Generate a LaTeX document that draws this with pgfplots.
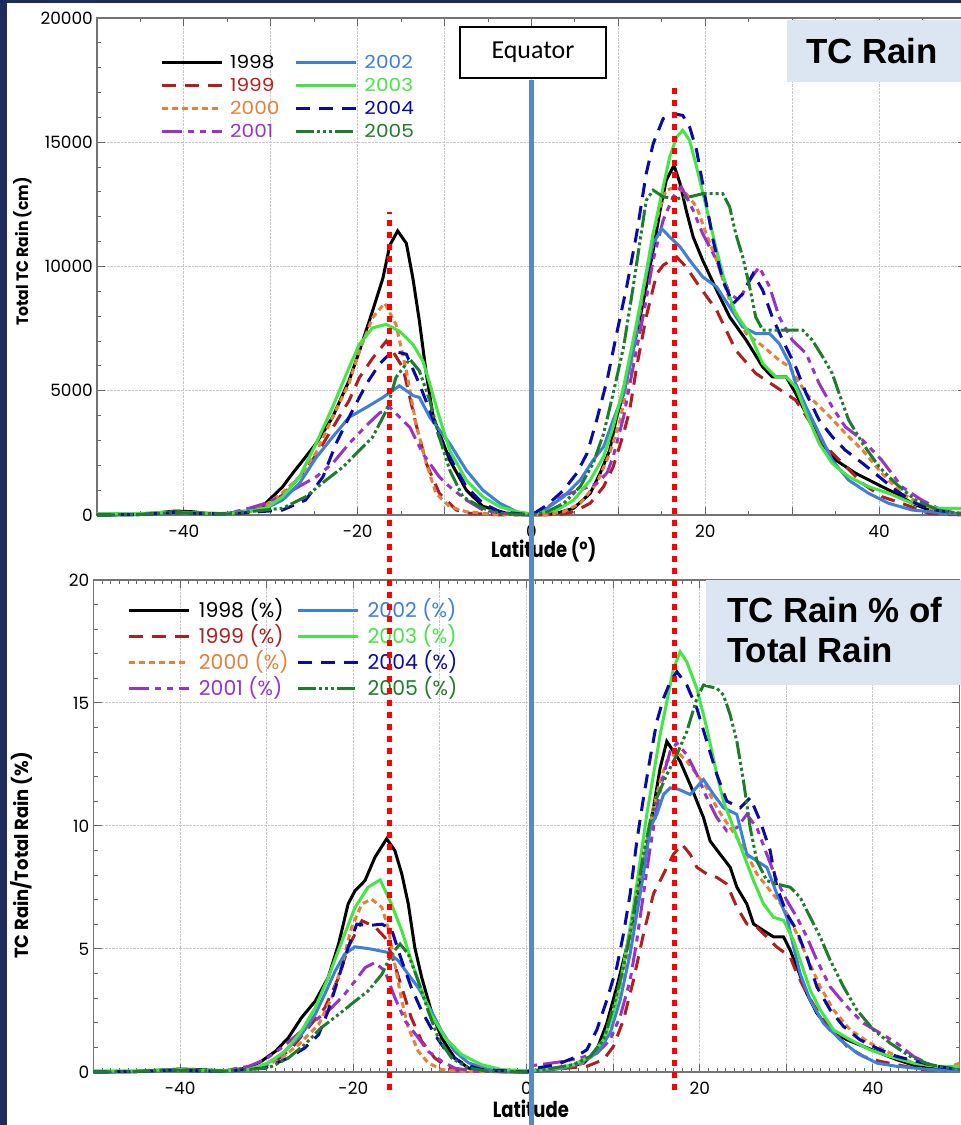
\documentclass[border=0pt]{standalone}
\usepackage{pgfplots}
\pgfplotsset{compat=1.18}
\usepackage{fontspec}
\setmainfont{Poppins}
\newfontfamily\lblfont[FakeStretch=0.82]{Poppins}
\newfontfamily\ylblfont[FakeStretch=0.95]{Poppins}
\newfontfamily\legfont[FakeStretch=1.12]{Poppins}
\newfontfamily\arialfont{Liberation Sans}
\newfontfamily\calfont{Carlito}

\definecolor{c98}{HTML}{000000}
\definecolor{c99}{HTML}{B01E1E}
\definecolor{c00}{HTML}{E5803C}
\definecolor{c01}{HTML}{9B32C8}
\definecolor{c02}{HTML}{3F7FDC}
\definecolor{c03}{HTML}{44E644}
\definecolor{c04}{HTML}{0A0AA5}
\definecolor{c05}{HTML}{1E7D2A}
\definecolor{navyframe}{HTML}{1F2B5B}
\definecolor{boxblue}{HTML}{DCE6F2}
\definecolor{eqblue}{HTML}{5A88C0}

\pgfplotsset{
  s98/.style={color=c98, line width=3bp},
  s99/.style={color=c99, line width=3bp, dash pattern=on 14bp off 9bp},
  s00/.style={color=c00, line width=3bp, dash pattern=on 6bp off 4bp},
  s01/.style={color=c01, line width=3bp, dash pattern=on 20bp off 6bp on 6bp off 6bp on 6bp off 6bp},
  s02/.style={color=c02, line width=3bp},
  s03/.style={color=c03, line width=3bp},
  s04/.style={color=c04, line width=3bp, dash pattern=on 14bp off 9bp},
  s05/.style={color=c05, line width=3bp, dash pattern=on 18bp off 3bp on 3bp off 3bp on 3bp off 3bp on 3bp off 3bp},
  tcaxis/.style={
    scale only axis, clip=false,
    scaled x ticks=false, scaled y ticks=false,
    xmin=-50, xmax=50,
    xtick={-50,-40,...,50},
    xticklabels={,-40,,-20,,0,,20,,40,},
    tick align=inside,
    major tick length=8bp, minor tick length=4bp,
    tick style={color=black!60, line width=1bp},
    axis line style={color=black!55, line width=1.2bp},
    grid=major,
    major grid style={densely dotted, color=black!22, line width=1bp},
    ticklabel style={font=\fontsize{17}{17}\selectfont, inner sep=4bp},
    xticklabel style={yshift=-6bp},
    legend cell align=left,
    legend image code/.code={\draw[##1] (0bp,0bp) -- (60bp,0bp);},
  },
}

\begin{document}
\begin{tikzpicture}[x=1bp,y=1bp]
\fill[navyframe] (0,0) rectangle (961,1125);
\fill[white] (7,0) rectangle (961,1122);

% ---------------- top panel: total TC rain ----------------
\begin{axis}[tcaxis,
  at={(97bp,610bp)}, anchor=south west,
  width=869bp, height=497bp,
  ymin=0, ymax=20000,
  ytick={0,5000,...,20000},
  yticklabels={0,5000,10000,15000,20000},
  minor x tick num=1, minor y tick num=4,
  xlabel={\lblfont\bfseries Latitude (°)},
  xlabel style={at={(axis description cs:0.514,0)}, anchor=center, yshift=-35bp, font=\fontsize{22}{22}\selectfont},
  ylabel={\ylblfont\bfseries Total TC Rain (cm)},
  ylabel style={at={(axis description cs:-0.086,0.53)}, anchor=center, font=\fontsize{16.5}{16.5}\selectfont},
  legend columns=4, transpose legend,
  legend style={at={(axis description cs:0.0726,0.923)}, anchor=north west,
    draw=none, fill=none, inner sep=0pt, outer sep=0pt,
    row sep=11bp, column sep=7bp,
    /tikz/every even column/.append style={column sep=15bp},
    nodes={inner sep=0pt, text height=12bp, text depth=0bp},
    font=\legfont\fontsize{18}{18}\selectfont},
]
\addplot[s98] coordinates {(-50,0)(-46,20)(-43,90)(-41,160)(-39,130)(-37,50)(-35,60)(-33.5,150)(-32.5,130)(-30.6,470)(-28.65,1130)(-27.5,1670)(-26.3,2200)(-24.8,2870)(-22.9,3930)(-21,5400)(-19.8,6600)(-18.3,8200)(-17.1,9530)(-16.3,10860)(-15.4,11430)(-14.4,10930)(-13.65,9530)(-12.9,7800)(-12.1,5670)(-11.3,3930)(-9.4,2200)(-7.5,1000)(-5.6,350)(-3,80)(0,0)(1.8,30)(2.9,70)(4.85,270)(6.75,870)(7.9,1680)(9.0,2610)(9.8,3950)(10.6,4890)(11.7,6630)(12.9,8640)(14.0,10650)(14.8,12260)(15.5,13470)(16.4,14070)(17.1,13330)(17.8,12260)(18.6,11190)(19.7,10250)(21.3,9050)(22.8,7970)(24.7,7040)(26.6,5960)(27.7,5560)(29.3,5560)(30.4,4890)(31.6,4090)(33.1,3015)(35.0,2210)(37.3,1680)(39.6,1270)(41.9,870)(43.8,470)(45.7,200)(48.7,70)(50,50)};
\addplot[s99] coordinates {(-50,0)(-45,20)(-41,100)(-38,60)(-35,40)(-32.5,100)(-30.6,350)(-28.65,800)(-26.7,1530)(-24.8,2400)(-22.9,3500)(-21,4600)(-19.8,5530)(-18.3,6300)(-16.7,7000)(-14.8,5930)(-13.3,3670)(-12.1,2070)(-10.6,870)(-8.65,200)(-7.1,70)(-4,10)(0,0)(2,10)(3.7,40)(4.85,130)(6.75,470)(8.3,1140)(9.4,1940)(10.6,3280)(11.3,4220)(12.1,5960)(13.2,7970)(14.4,9700)(15.15,10050)(16.7,10385)(17.8,9980)(19.35,9180)(21.3,8240)(23.5,6630)(25.8,5700)(28.1,5160)(30.4,4620)(31.9,3820)(33.5,2880)(35.8,2080)(38.1,1270)(40.3,740)(42.6,470)(45.7,70)(48,20)(50,0)};
\addplot[s00] coordinates {(-50,0)(-45,20)(-41,120)(-38,60)(-35,40)(-32.5,120)(-30.6,400)(-28.65,900)(-26.7,1530)(-24.8,2500)(-22.9,3930)(-21,5300)(-19.8,6600)(-18.3,7930)(-16.9,8530)(-15.6,7670)(-14.4,5800)(-13.3,3670)(-12.1,2070)(-11,870)(-9.4,330)(-7.5,130)(-4,20)(0,0)(2,20)(3.7,130)(5.6,470)(7.5,1270)(9.0,2480)(10.2,3820)(11.3,5700)(12.1,7300)(13.2,9720)(14.0,11320)(14.8,12400)(15.5,13070)(16.7,13200)(17.8,12930)(19.0,12400)(20.1,11320)(21.3,10250)(22.8,8640)(24.7,7300)(26.6,6800)(28.5,6230)(29.7,5960)(31.6,4890)(34.2,4000)(36.5,3150)(38.1,2610)(40.3,1680)(42.6,870)(45.7,270)(48,100)(50,30)};
\addplot[s01] coordinates {(-50,0)(-45,20)(-41,100)(-38,60)(-35,60)(-32.5,270)(-30.6,470)(-27.5,1000)(-24.8,1530)(-22.9,2070)(-21,2870)(-19,3600)(-17.5,4100)(-16.3,4330)(-14,3530)(-12.5,2470)(-10.6,1530)(-9.4,1130)(-7.5,600)(-5.6,200)(-3,50)(0,0)(1.8,300)(3.7,800)(5.6,1000)(7.5,1270)(8.7,1700)(9.4,2350)(10.6,3950)(11.7,5960)(12.9,8100)(14.0,10250)(15.15,11860)(16.3,12800)(17.25,13200)(18.6,12260)(19.7,11320)(21.3,10250)(22.8,8900)(23.9,8640)(25.1,9450)(26.2,9980)(27.4,9180)(28.5,7970)(30.0,7040)(31.6,6500)(33.1,5290)(34.6,4350)(36.1,3550)(38.1,3015)(40.3,2210)(42.6,1140)(44.9,600)(47.2,200)(49.1,70)(50,50)};
\addplot[s02] coordinates {(-50,0)(-45,20)(-41,100)(-38,60)(-35,40)(-33,150)(-30.6,270)(-28.65,600)(-26.7,1270)(-24.8,2300)(-22.9,3130)(-21,3930)(-19,4330)(-17.1,4730)(-15.2,5200)(-13.6,4800)(-12.9,4730)(-11.7,3930)(-9.4,2870)(-7.5,1800)(-5.6,1000)(-3.65,470)(-1.7,130)(0,0)(1.8,270)(3.7,740)(5.6,1400)(7.1,2210)(8.3,2750)(9.4,3820)(10.6,4890)(11.7,6630)(12.9,9180)(14.0,10920)(15.0,11520)(15.9,11190)(17.1,10790)(18.2,10250)(19.7,9580)(21.3,9180)(22.8,8370)(24.3,7570)(25.8,7300)(27.4,7300)(28.5,6900)(29.7,6100)(30.4,5290)(31.6,4350)(33.1,3280)(34.6,2210)(36.5,1400)(38.8,870)(41.1,470)(43.8,200)(47.6,70)(50,30)};
\addplot[s03] coordinates {(-50,50)(-45,60)(-41,120)(-38,80)(-35,60)(-32.5,150)(-30.6,270)(-28.65,730)(-26.7,1530)(-24.8,2870)(-22.9,4330)(-21,5930)(-19.8,6870)(-18.3,7530)(-16.7,7670)(-15.2,7400)(-13.65,6870)(-12.5,6200)(-11.7,5270)(-10.6,3930)(-9.4,2600)(-7.5,1400)(-5.6,730)(-3.65,330)(-1.7,130)(0,50)(2.9,200)(4.85,600)(6.75,1400)(8.3,2350)(9.4,3550)(10.6,5160)(11.7,7040)(12.9,9180)(14.0,11320)(15.15,13200)(15.9,14400)(16.7,15210)(17.4,15480)(18.2,15070)(19.0,14000)(20.1,12400)(21.3,10650)(22.4,9180)(23.5,8100)(25.1,7300)(26.6,6100)(28.1,5560)(29.3,5560)(30.4,5160)(31.6,4090)(33.1,2880)(34.6,2080)(36.5,1540)(38.8,1140)(41.1,870)(43.8,470)(46.8,270)(50,270)};
\addplot[s04] coordinates {(-50,0)(-45,20)(-41,100)(-38,60)(-35,40)(-32.5,100)(-28.65,200)(-26,600)(-24,1530)(-22.5,2870)(-21,3930)(-19,5270)(-17.5,6070)(-16,6600)(-14.4,6470)(-12.9,5270)(-11.7,4200)(-10.6,3130)(-9,2070)(-7.5,1130)(-5.6,470)(-3.65,130)(0,0)(1.8,400)(3.7,1000)(5.2,1680)(6.4,2480)(7.5,3820)(8.7,5430)(9.8,7300)(10.95,9180)(12.1,11320)(13.2,13740)(14.0,14940)(15.15,15950)(16.3,16150)(17.4,16080)(18.2,15610)(19.0,14670)(19.7,13330)(20.9,11050)(22.0,9450)(23.2,8500)(24.3,8900)(25.5,9710)(26.6,9050)(27.7,7970)(28.9,7040)(30.4,5960)(31.6,4890)(33.1,3820)(34.6,3150)(36.1,2610)(38.1,2080)(40.0,1540)(41.9,1000)(44.2,470)(46.5,200)(49.1,70)(50,50)};
\addplot[s05] coordinates {(-50,0)(-45,20)(-41,100)(-38,60)(-35,40)(-32,150)(-28.65,270)(-26,730)(-23.65,1400)(-21.7,1930)(-19.8,2600)(-18.3,3130)(-16.7,4200)(-15.6,5530)(-14,6270)(-12.9,5800)(-11.7,4600)(-10.6,3130)(-9.4,1800)(-7.9,730)(-5.6,270)(-3.65,70)(0,0)(1.8,130)(3.7,470)(5.6,1140)(7.1,2080)(8.3,3280)(9.4,4890)(10.6,6770)(11.7,9180)(12.5,11050)(13.2,12660)(14.0,13070)(15.15,12800)(16.7,12730)(18.2,12800)(19.7,12930)(22.0,12930)(22.8,12400)(23.5,11320)(24.3,10390)(25.1,9180)(25.8,7970)(26.6,7440)(28.1,7440)(29.7,7440)(31.2,7440)(32.3,7040)(33.5,6370)(34.6,5700)(35.4,4890)(36.5,3820)(38.1,2880)(40.0,1940)(41.9,1270)(44.2,600)(46.8,200)(49.1,70)(50,50)};
\legend{\textcolor{c98}{1998},\textcolor{c99}{1999},\textcolor{c00}{2000},\textcolor{c01}{2001},\textcolor{c02}{2002},\textcolor{c03}{2003},\textcolor{c04}{2004},\textcolor{c05}{2005}}
\end{axis}

% ---------------- bottom panel: TC rain as % of total ----------------
\begin{axis}[tcaxis,
  at={(93.5bp,53bp)}, anchor=south west,
  width=866bp, height=492bp,
  ymin=0, ymax=20,
  ytick={0,5,...,20},
  yticklabels={0,5,10,15,20},
  minor x tick num=9, minor y tick num=4,
  xlabel={\lblfont\bfseries Latitude},
  xlabel style={at={(axis description cs:0.505,0)}, anchor=center, yshift=-37bp, font=\fontsize{22}{22}\selectfont},
  ylabel={\ylblfont\bfseries TC Rain/Total Rain (\%)},
  ylabel style={at={(axis description cs:-0.083,0.44)}, anchor=center, font=\fontsize{19}{19}\selectfont},
  legend columns=4, transpose legend,
  legend style={at={(axis description cs:0.0398,0.953)}, anchor=north west,
    draw=none, fill=none, inner sep=0pt, outer sep=0pt,
    row sep=12bp, column sep=8bp,
    /tikz/every even column/.append style={column sep=8bp},
    nodes={inner sep=0pt, text height=14bp, text depth=0bp},
    font=\fontsize{20.5}{20.5}\selectfont},
]
\addplot[s98] coordinates {(-50,0)(-45,0.02)(-42,0.08)(-40,0.12)(-38,0.1)(-35,0.05)(-32.1,0.16)(-30.6,0.44)(-29,0.84)(-27.5,1.39)(-26,2.2)(-24.4,2.88)(-22.9,3.84)(-21.7,5.2)(-20.6,6.83)(-19.8,7.37)(-18.65,7.78)(-17.5,8.73)(-16.15,9.48)(-15.2,9.0)(-14.4,8.05)(-13.65,6.83)(-12.9,5.06)(-12.1,3.84)(-11,2.48)(-9.8,1.39)(-8.3,0.57)(-6.7,0.16)(-4.4,0.03)(0,0)(4.27,0.16)(6.58,0.36)(8.12,0.9)(9.27,1.98)(10.43,3.46)(11.58,5.08)(12.74,6.97)(13.89,9.12)(14.66,10.74)(15.43,12.36)(16.2,13.44)(16.97,13.03)(17.74,12.63)(18.9,11.68)(19.67,11.01)(20.44,10.34)(21.2,9.39)(22.36,8.85)(23.52,8.32)(24.29,7.51)(25.44,6.83)(26.21,6.02)(27.37,5.75)(28.53,5.49)(29.68,5.49)(30.45,4.95)(31.22,4.27)(32.37,3.19)(33.53,2.39)(35.07,1.71)(37.0,1.31)(38.92,1.04)(40.85,0.77)(42.77,0.5)(45.08,0.23)(48.55,0.1)(50,0.1)};
\addplot[s99] coordinates {(-50,0)(-45,0.02)(-41,0.08)(-38,0.05)(-35,0.03)(-31,0.16)(-29,0.44)(-27.1,0.98)(-25.2,1.8)(-23.3,2.6)(-21.7,3.84)(-20.6,5.06)(-19,6.15)(-17.5,5.9)(-16.35,5.47)(-15.6,4.79)(-14.4,3.43)(-13.3,2.2)(-12.1,1.25)(-10.6,0.57)(-9,0.16)(-7.1,0.03)(0,0)(6.96,0.23)(8.89,0.5)(10.04,1.04)(11.2,2.12)(12.35,3.73)(13.51,5.62)(14.66,7.24)(15.82,8.05)(16.97,8.85)(17.94,9.26)(18.9,8.85)(19.67,8.32)(20.82,8.05)(21.98,7.91)(23.13,7.64)(24.29,6.7)(25.44,6.02)(26.6,5.89)(27.75,5.49)(28.91,5.08)(30.45,4.68)(31.22,4.0)(32.37,3.19)(33.53,2.52)(35.07,1.85)(37.0,1.04)(38.92,0.63)(40.85,0.43)(42.77,0.3)(45.47,0.1)(50,0.05)};
\addplot[s00] coordinates {(-50,0)(-45,0.02)(-41,0.1)(-38,0.05)(-35,0.03)(-30.2,0.23)(-28.3,0.57)(-26.3,1.12)(-24,1.93)(-22.5,3.02)(-21.3,4.38)(-20.2,5.88)(-19,6.83)(-17.9,7.03)(-16.7,6.69)(-16,5.88)(-15.2,4.38)(-14.4,2.88)(-13.65,1.8)(-12.5,0.84)(-11.35,0.37)(-9.8,0.1)(-7,0.02)(0,0)(6.19,0.3)(8.12,0.77)(9.27,1.58)(10.43,2.92)(11.58,4.68)(12.74,6.97)(13.89,9.39)(14.66,10.74)(15.43,11.82)(16.2,12.63)(17.36,13.03)(18.51,12.63)(19.67,12.09)(20.82,11.55)(21.98,10.74)(23.52,9.93)(25.06,9.12)(26.6,8.05)(28.14,7.37)(29.68,6.7)(31.22,5.62)(32.37,4.68)(33.92,3.46)(35.46,2.52)(37.38,1.71)(39.69,1.17)(42.0,0.77)(44.7,0.36)(48.55,0.16)(50,0.36)};
\addplot[s01] coordinates {(-50,0)(-45,0.02)(-41,0.08)(-38,0.05)(-35,0.05)(-32.1,0.23)(-30.2,0.5)(-28.3,0.98)(-26,1.66)(-24,2.2)(-22.5,2.61)(-21,3.16)(-19.8,3.7)(-18.65,4.24)(-17.5,4.45)(-16.35,4.1)(-15.2,3.02)(-14,2.07)(-12.5,1.39)(-11.35,0.84)(-9.8,0.44)(-8.3,0.16)(-6,0.03)(0,0)(0.42,0.25)(1.57,0.3)(4.27,0.43)(6.19,0.57)(8.12,0.77)(9.66,1.31)(10.81,2.25)(11.97,3.73)(12.74,5.35)(13.51,7.24)(14.28,9.12)(15.05,10.74)(15.82,12.09)(16.59,13.03)(17.36,13.37)(18.51,12.9)(19.67,12.09)(20.82,11.15)(21.98,10.34)(23.13,9.8)(24.29,9.93)(25.44,10.47)(26.6,9.93)(27.75,8.85)(28.91,7.78)(30.06,6.97)(31.22,6.29)(32.37,5.49)(33.53,4.54)(35.07,3.46)(37.0,2.65)(38.92,1.98)(40.85,1.58)(42.77,1.17)(44.7,0.63)(46.6,0.3)(49.7,0.1)(50,0.1)};
\addplot[s02] coordinates {(-50,0)(-45,0.02)(-41,0.08)(-38,0.05)(-35,0.03)(-32.1,0.1)(-30.2,0.3)(-28.3,0.71)(-26,1.52)(-24.4,2.34)(-23.3,3.16)(-22.1,4.1)(-21,4.79)(-19.8,5.09)(-18,5.0)(-16,4.86)(-14.8,4.52)(-13.65,3.97)(-12.5,3.43)(-11,2.48)(-9.8,1.66)(-8.3,0.84)(-6.7,0.37)(-4.4,0.1)(0,0)(4.27,0.16)(6.19,0.36)(8.12,0.77)(9.66,1.58)(10.81,2.92)(11.97,4.81)(12.74,6.43)(13.51,8.05)(14.28,9.93)(15.05,10.47)(15.82,11.28)(16.59,11.55)(17.5,11.5)(18.9,11.28)(20.44,11.89)(21.6,11.28)(22.75,10.74)(24.29,10.47)(25.44,8.85)(26.6,8.58)(27.75,8.32)(28.91,7.24)(30.06,6.29)(30.84,5.08)(31.6,4.0)(32.76,2.92)(34.3,1.98)(36.23,1.31)(38.15,0.77)(40.46,0.36)(42.77,0.23)(46.6,0.1)(50,0.05)};
\addplot[s03] coordinates {(-50,0.05)(-45,0.05)(-41,0.1)(-38,0.08)(-35,0.05)(-32.1,0.1)(-29.8,0.37)(-27.9,0.84)(-26,1.66)(-24.4,2.61)(-22.9,3.84)(-21.3,5.33)(-19.8,6.69)(-18.3,7.51)(-16.9,7.81)(-15.6,6.83)(-14.4,5.74)(-13.3,4.52)(-12.1,3.29)(-11,2.34)(-9.4,1.39)(-7.5,0.71)(-5.2,0.3)(-2.9,0.1)(0,0.05)(3.5,0.16)(5.42,0.3)(7.35,0.63)(8.89,1.31)(10.04,2.39)(10.81,3.6)(11.58,5.08)(12.35,6.7)(13.12,8.58)(13.89,10.47)(14.66,12.09)(15.43,13.71)(16.2,15.05)(16.97,16.4)(17.74,17.08)(18.51,16.67)(19.67,15.59)(20.82,13.98)(21.98,12.09)(22.75,11.01)(23.9,9.93)(25.06,8.85)(26.21,7.78)(27.37,6.83)(28.53,6.29)(29.68,6.16)(30.84,5.35)(31.6,4.54)(32.76,3.33)(33.92,2.52)(35.46,1.71)(37.38,1.31)(39.69,0.9)(42.0,0.63)(44.7,0.36)(47.39,0.23)(50,0.23)};
\addplot[s04] coordinates {(-50,0)(-45,0.02)(-41,0.08)(-38,0.05)(-35,0.03)(-30.2,0.16)(-27.5,0.57)(-25.6,0.98)(-24,1.52)(-22.9,2.48)(-21.7,3.84)(-20.6,5.06)(-19.6,6.01)(-18.3,5.95)(-16.7,6.01)(-15.6,5.81)(-14.4,4.52)(-13.3,3.43)(-12.1,2.48)(-10.6,1.52)(-9,0.71)(-7.1,0.3)(-5.2,0.1)(0,0)(1.19,0.16)(3.5,0.3)(5.42,0.57)(6.96,0.9)(8.12,1.71)(9.27,2.92)(10.43,4.27)(11.2,5.62)(11.97,7.24)(12.74,9.39)(13.51,11.15)(14.28,12.76)(15.05,14.25)(15.82,15.19)(16.59,15.86)(17.36,16.27)(18.51,15.73)(19.67,14.78)(20.82,13.44)(21.98,12.09)(23.13,11.01)(24.67,10.74)(25.83,11.15)(26.98,10.2)(28.14,8.99)(28.91,7.51)(30.06,6.43)(31.22,5.75)(32.37,4.68)(33.53,3.46)(35.07,2.52)(36.61,1.85)(38.5,1.31)(40.85,0.9)(42.77,0.63)(45.08,0.43)(47.39,0.23)(50,0.1)};
\addplot[s05] coordinates {(-50,0)(-45,0.02)(-41,0.08)(-38,0.05)(-35,0.03)(-29.8,0.16)(-27.5,0.57)(-25.6,1.12)(-23.7,1.8)(-21.7,2.34)(-19.8,2.88)(-18.3,3.29)(-16.7,3.97)(-15.6,4.79)(-14.6,5.2)(-13.65,4.79)(-12.5,3.7)(-11.35,2.48)(-10.2,1.39)(-8.65,0.57)(-6.7,0.16)(-4.4,0.03)(0,0)(3.11,0.16)(5.42,0.3)(7.35,0.63)(8.89,1.31)(10.04,2.65)(11.2,4.27)(11.97,5.62)(12.74,7.24)(13.51,8.85)(14.28,10.2)(15.05,11.15)(16.2,12.09)(17.36,12.9)(18.51,13.84)(19.67,15.19)(20.44,15.73)(21.98,15.59)(22.75,15.32)(23.52,14.51)(24.29,13.44)(25.06,11.82)(25.83,9.93)(26.6,8.58)(27.75,7.78)(28.91,7.64)(30.45,7.51)(31.6,7.1)(32.76,6.29)(33.92,5.49)(35.07,4.54)(36.61,3.46)(38.15,2.52)(40.08,1.71)(42.0,1.17)(44.31,0.63)(46.6,0.3)(49.7,0.1)(50,0.1)};
\legend{\textcolor{c98}{1998 (\%)},\textcolor{c99}{1999 (\%)},\textcolor{c00}{2000 (\%)},\textcolor{c01}{2001 (\%)},\textcolor{c02}{2002 (\%)},\textcolor{c03}{2003 (\%)},\textcolor{c04}{2004 (\%)},\textcolor{c05}{2005 (\%)}}
\end{axis}

% ---------------- annotations ----------------
\draw[eqblue, line width=5bp] (531,0) -- (531,1045);
\draw[red, line width=5bp, dash pattern=on 6bp off 6bp] (389,35) -- (389,913);
\draw[red, line width=5bp, dash pattern=on 6bp off 6bp] (674,35) -- (674,1040);
\node[draw=black, line width=1.3bp, fill=white, minimum width=146bp, minimum height=51bp,
  inner sep=0pt, font=\calfont\fontsize{26}{26}\selectfont] at (533,1072.5) {Equator};
\fill[boxblue] (787,1105) rectangle (961,1043);
\node[font=\arialfont\bfseries\fontsize{35}{35}\selectfont, inner sep=0pt] at (872,1074) {TC Rain};
\fill[boxblue] (706,545) rectangle (961,440);
\node[anchor=base west, font=\arialfont\bfseries\fontsize{35}{35}\selectfont, inner sep=0pt] at (727,502) {TC Rain \% of};
\node[anchor=base west, font=\arialfont\bfseries\fontsize{35}{35}\selectfont, inner sep=0pt] at (727,462) {Total Rain};

\pgfresetboundingbox
\path[use as bounding box] (0,0) rectangle (961,1125);
\end{tikzpicture}
\end{document}
